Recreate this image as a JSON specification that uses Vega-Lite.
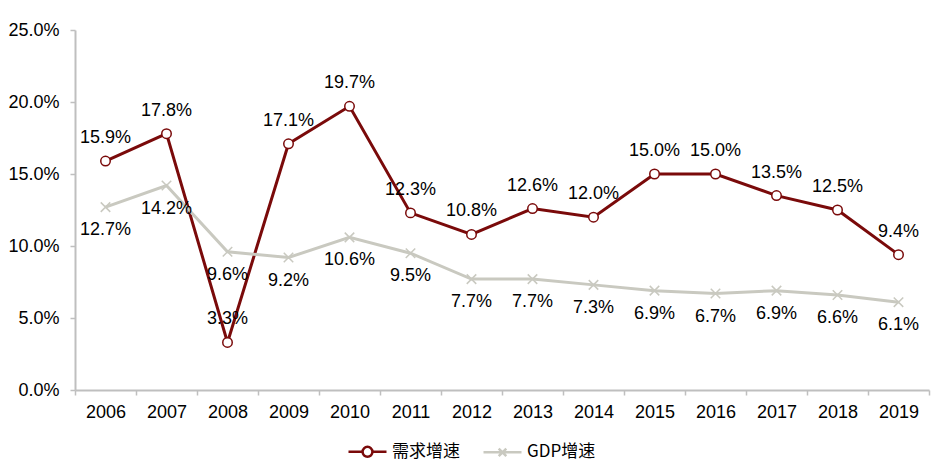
{
  "$schema": "https://vega.github.io/schema/vega-lite/v6.json",
  "width": 854,
  "height": 360,
  "autosize": {"type": "none"},
  "padding": {"left": 75, "top": 30, "right": 12, "bottom": 85},
  "background": "white",
  "config": {
    "view": {"stroke": null},
    "font": "Liberation Sans",
    "axis": {"labelFont": "Liberation Sans", "labelFontSize": 18, "labelColor": "#000000", "domainColor": "#BFBFBF", "tickColor": "#BFBFBF", "domainWidth": 2, "tickWidth": 1.5, "grid": false, "title": null, "labelOverlap": false}
  },
  "data": {
    "values": [
      {"year": "2006", "series": "需求增速", "value": 0.159},
      {"year": "2007", "series": "需求增速", "value": 0.178},
      {"year": "2008", "series": "需求增速", "value": 0.033},
      {"year": "2009", "series": "需求增速", "value": 0.171},
      {"year": "2010", "series": "需求增速", "value": 0.197},
      {"year": "2011", "series": "需求增速", "value": 0.123},
      {"year": "2012", "series": "需求增速", "value": 0.108},
      {"year": "2013", "series": "需求增速", "value": 0.126},
      {"year": "2014", "series": "需求增速", "value": 0.120},
      {"year": "2015", "series": "需求增速", "value": 0.150},
      {"year": "2016", "series": "需求增速", "value": 0.150},
      {"year": "2017", "series": "需求增速", "value": 0.135},
      {"year": "2018", "series": "需求增速", "value": 0.125},
      {"year": "2019", "series": "需求增速", "value": 0.094},
      {"year": "2006", "series": "GDP增速", "value": 0.127},
      {"year": "2007", "series": "GDP增速", "value": 0.142},
      {"year": "2008", "series": "GDP增速", "value": 0.096},
      {"year": "2009", "series": "GDP增速", "value": 0.092},
      {"year": "2010", "series": "GDP增速", "value": 0.106},
      {"year": "2011", "series": "GDP增速", "value": 0.095},
      {"year": "2012", "series": "GDP增速", "value": 0.077},
      {"year": "2013", "series": "GDP增速", "value": 0.077},
      {"year": "2014", "series": "GDP增速", "value": 0.073},
      {"year": "2015", "series": "GDP增速", "value": 0.069},
      {"year": "2016", "series": "GDP增速", "value": 0.067},
      {"year": "2017", "series": "GDP增速", "value": 0.069},
      {"year": "2018", "series": "GDP增速", "value": 0.066},
      {"year": "2019", "series": "GDP增速", "value": 0.061}
    ]
  },
  "encoding": {
    "x": {
      "field": "year", "type": "ordinal", "bandPosition": 0.5,
      "scale": {"type": "band", "paddingInner": 0, "paddingOuter": 0},
      "axis": {"labelAngle": 0, "tickBand": "extent", "tickSize": 5, "labelPadding": 8}
    },
    "y": {
      "field": "value", "type": "quantitative",
      "scale": {"domain": [0, 0.25], "nice": false},
      "axis": {"format": ".1%", "values": [0, 0.05, 0.1, 0.15, 0.2, 0.25], "tickSize": 5, "labelPadding": 11}
    }
  },
  "layer": [
    {
      "mark": {"type": "line", "strokeWidth": 3},
      "encoding": {
        "color": {
          "field": "series", "type": "nominal",
          "scale": {"domain": ["需求增速", "GDP增速"], "range": ["#7A0A0A", "#C9C9C0"]},
          "legend": {
            "title": null, "orient": "none", "direction": "horizontal",
            "legendX": 272, "legendY": 401,
            "labelFont": "Noto Sans CJK SC", "labelFontSize": 17, "labelColor": "#000000",
            "symbolSize": 1444, "symbolStrokeWidth": 2.5, "labelOffset": 4, "columnPadding": 18,
            "symbolType": "M-1,0L-0.26,0M0.26,0L1,0M-0.26,0A0.26,0.26 0 1,0 0.26,0A0.26,0.26 0 1,0 -0.26,0",
            "encode": {
              "symbols": {
                "update": {
                  "shape": {"signal": "datum.value === '需求增速' ? 'M-1,0L-0.26,0M0.26,0L1,0M-0.26,0A0.26,0.26 0 1,0 0.26,0A0.26,0.26 0 1,0 -0.26,0' : 'M-1,0L1,0M-0.2,-0.2L0.2,0.2M-0.2,0.2L0.2,-0.2'"},
                  "fill": {"value": "white"}
                }
              }
            }
          }
        }
      }
    },
    {
      "transform": [{"filter": "datum.series === '需求增速'"}],
      "mark": {"type": "point", "shape": "circle", "size": 90, "filled": true, "fill": "white", "stroke": "#7A0A0A", "strokeWidth": 1.5, "opacity": 1}
    },
    {
      "transform": [{"filter": "datum.series === 'GDP增速'"}],
      "mark": {"type": "point", "shape": "M-1,-1L1,1M-1,1L1,-1", "size": 90, "filled": false, "stroke": "#C9C9C0", "strokeWidth": 1.5, "opacity": 1}
    },
    {
      "transform": [{"filter": "datum.series === '需求增速'"}],
      "mark": {"type": "text", "dy": -23, "fontSize": 18, "font": "Liberation Sans", "color": "#000000"},
      "encoding": {"text": {"field": "value", "type": "quantitative", "format": ".1%"}}
    },
    {
      "transform": [{"filter": "datum.series === 'GDP增速'"}],
      "mark": {"type": "text", "dy": 23, "fontSize": 18, "font": "Liberation Sans", "color": "#000000"},
      "encoding": {"text": {"field": "value", "type": "quantitative", "format": ".1%"}}
    }
  ]
}
